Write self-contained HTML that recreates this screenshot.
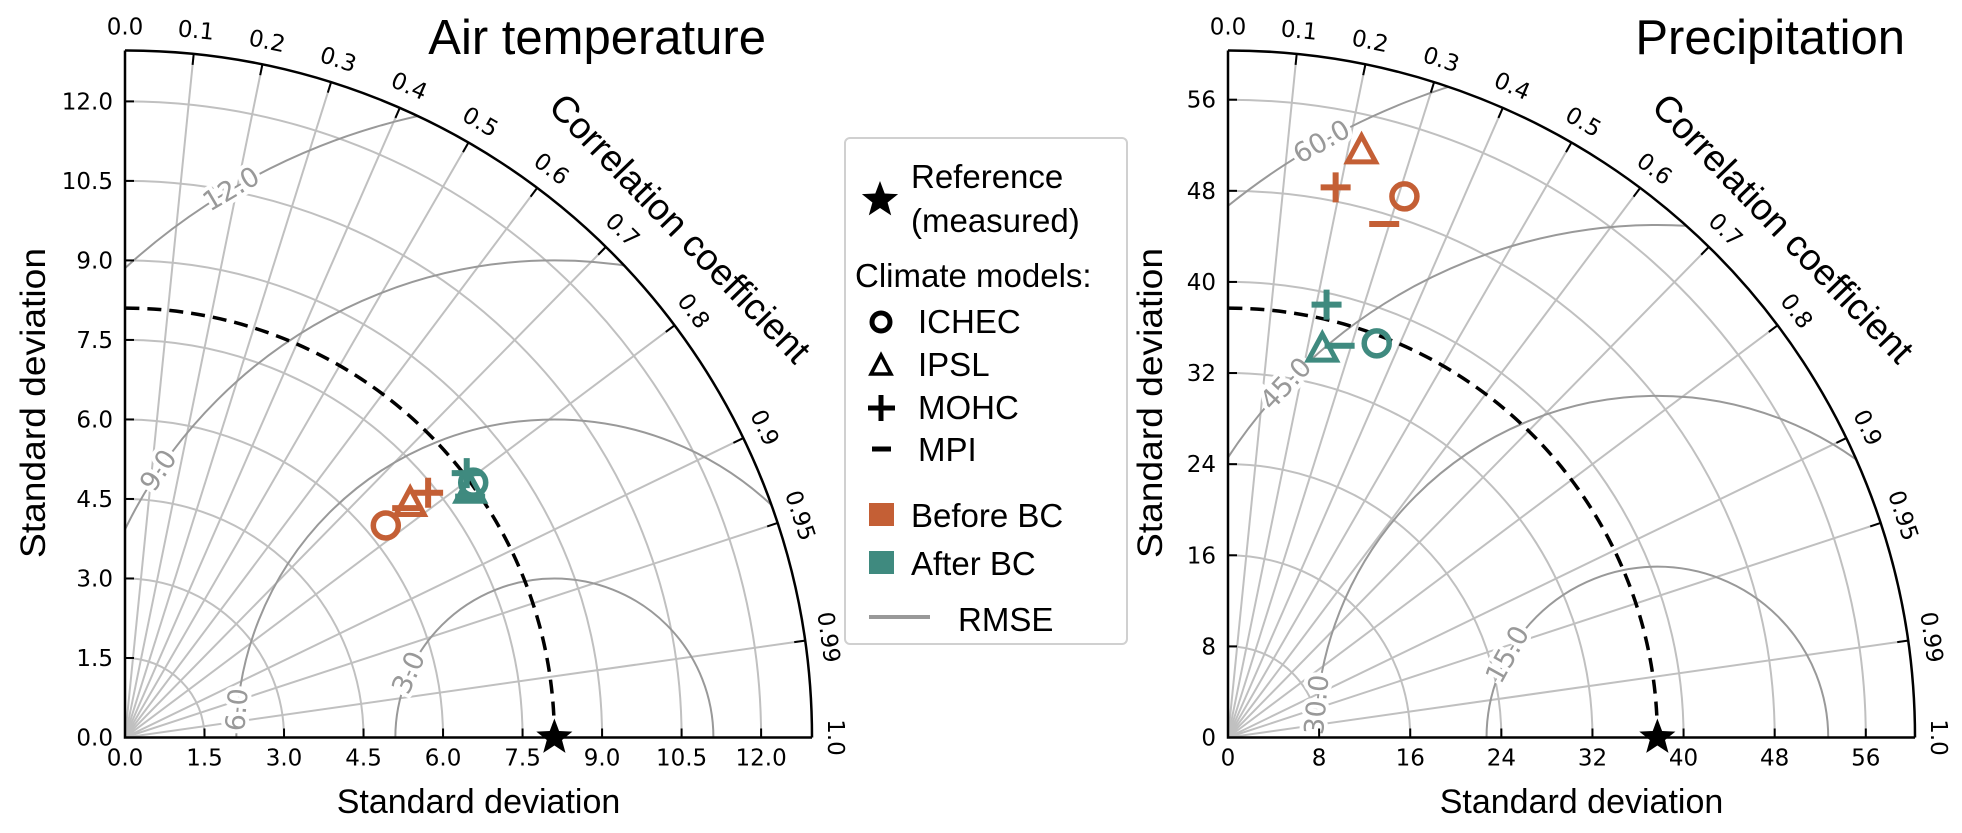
<!DOCTYPE html>
<html><head><meta charset="utf-8"><style>
html,body{margin:0;padding:0;background:#fff;overflow:hidden;width:1962px;height:833px;}
svg{display:block;}
</style></head><body>
<svg id="chart" width="1962" height="833" viewBox="0 0 1962 833" xmlns="http://www.w3.org/2000/svg">
<g id="panelT"></g>
<g id="panelP"></g>
<g id="legend">
  <rect x="845" y="138" width="282" height="506" rx="5" fill="#fff" stroke="#d0d0d0" stroke-width="2"/>
  <path d="" id="legStar" fill="#000"/>
  <text x="911" y="188" font-family="Liberation Sans, sans-serif" font-size="33">Reference</text>
  <text x="911" y="232" font-family="Liberation Sans, sans-serif" font-size="33">(measured)</text>
  <text x="855" y="287" font-family="Liberation Sans, sans-serif" font-size="33">Climate models:</text>
  <circle cx="881" cy="322" r="9" fill="none" stroke="#000" stroke-width="5"/>
  <text x="918" y="333" font-family="Liberation Sans, sans-serif" font-size="33">ICHEC</text>
  <path d="M881,355 L891,374 L871,374 Z" fill="none" stroke="#000" stroke-width="3.5"/>
  <text x="918" y="376" font-family="Liberation Sans, sans-serif" font-size="33">IPSL</text>
  <path d="M868,408 H895 M881,395 V421" stroke="#000" stroke-width="5"/>
  <text x="918" y="419" font-family="Liberation Sans, sans-serif" font-size="33">MOHC</text>
  <path d="M872,449 H891" stroke="#000" stroke-width="5"/>
  <text x="918" y="461" font-family="Liberation Sans, sans-serif" font-size="33">MPI</text>
  <rect x="869" y="503" width="25" height="23" fill="#c45f35"/>
  <text x="911" y="527" font-family="Liberation Sans, sans-serif" font-size="33">Before BC</text>
  <rect x="869" y="551" width="25" height="23" fill="#3f8a7f"/>
  <text x="911" y="575" font-family="Liberation Sans, sans-serif" font-size="33">After BC</text>
  <path d="M869,617 H930" stroke="#999" stroke-width="4"/>
  <text x="958" y="631" font-family="Liberation Sans, sans-serif" font-size="33">RMSE</text>
</g>
</svg>
<script>
// ---- Air temperature data ----
const stdTicksT = [0, 1.5, 3.0, 4.5, 6.0, 7.5, 9.0, 10.5, 12.0];
const stdTickLabelsT = ["0.0","1.5","3.0","4.5","6.0","7.5","9.0","10.5","12.0"];
const refStdT = 8.1;
const rmseLevelsT = [3, 6, 9, 12];
const rmseLabelsT = ["3.0","6.0","9.0","12.0"];
const rmseLabelAngleT = [156, 175, 146, 120.5];
const beforeStdT = [6.34, 6.96, 7.35, 6.86];
const beforeCorrT = [0.776, 0.773, 0.778, 0.776];
const afterStdT = [8.14, 8.01, 8.15, 7.94];
const afterCorrT = [0.807, 0.813, 0.791, 0.82];
// ---- Precipitation data ----
const stdTicksP = [0, 8, 16, 24, 32, 40, 48, 56];
const stdTickLabelsP = ["0","8","16","24","32","40","48","56"];
const refStdP = 37.7;
const rmseLevelsP = [15, 30, 45, 60];
const rmseLabelsP = ["15.0","30.0","45.0","60.0"];
const rmseLabelAngleP = [151, 174.5, 136.4, 119.4];
const beforeStdP = [49.97, 52.82, 49.22, 47.13];
const beforeCorrP = [0.310, 0.222, 0.192, 0.291];
const afterStdP = [36.99, 35.09, 38.98, 35.77];
const afterCorrP = [0.353, 0.236, 0.222, 0.274];
// ---- shared ----
const models = ["ichec","ipsl","mohc","mpi"];
const corrTicks = [0, 0.1, 0.2, 0.3, 0.4, 0.5, 0.6, 0.7, 0.8, 0.9, 0.95, 0.99, 1.0];
const corrTickLabels = ["0.0","0.1","0.2","0.3","0.4","0.5","0.6","0.7","0.8","0.9","0.95","0.99","1.0"];

const NS = "http://www.w3.org/2000/svg";
function mk(parent, tag, attrs){
  const e = document.createElementNS(NS, tag);
  for (const k in attrs) e.setAttribute(k, attrs[k]);
  parent.appendChild(e);
  return e;
}
function starPath(cx, cy, R){
  const r = R*0.42; let d = "";
  for (let i=0;i<10;i++){
    const a = -Math.PI/2 + i*Math.PI/5;
    const rr = i%2===0 ? R : r;
    d += (i===0?"M":"L") + (cx+rr*Math.cos(a)).toFixed(1) + "," + (cy+rr*Math.sin(a)).toFixed(1);
  }
  return d + "Z";
}
document.getElementById("legStar").setAttribute("d", starPath(880, 200, 19));

function drawPanel(g, cfg){
  const ox = cfg.ox, oy = cfg.oy, R = 687;
  const rmax = 1.6*cfg.ref;
  const k = R/rmax;
  const X = (s,c) => ox + s*c*k;
  const Y = (s,c) => oy - s*Math.sqrt(Math.max(0,1-c*c))*k;
  const DX = v => ox + v*k;
  const DY = v => oy - v*k;
  const id = cfg.key;
  const defs = mk(g, "defs", {});
  const cp = mk(defs, "clipPath", {id: "clip"+id});
  mk(cp, "path", {d: `M${ox},${oy} L${ox+R},${oy} A${R},${R} 0 0 0 ${ox},${oy-R} Z`});
  cfg.ticks.forEach((t,i) => {
    if (t<=0) return;
    const a = mk(g, "path", {d:`M${DX(t)},${oy} A${t*k},${t*k} 0 0 0 ${ox},${DY(t)}`, fill:"none", stroke:"#c0c0c0", "stroke-width":2});
    
    
  });
  corrTicks.forEach(c => {
    if (c<=0 || c>=1) return;
    const l = mk(g, "line", {x1:ox, y1:oy, x2:X(rmax,c), y2:Y(rmax,c), stroke:"#c0c0c0", "stroke-width":2});
    
    
  });
  const cg = mk(g, "g", {"clip-path":`url(#clip${id})`});
  
  
  cfg.rmse.forEach(L => {
    const c = mk(cg, "circle", {cx:DX(cfg.ref), cy:oy, r:L*k, fill:"none", stroke:"#999", "stroke-width":2});
    
    
  });
  cfg.rmse.forEach((L,i) => {
    const phi = cfg.rmseAng[i]*Math.PI/180;
    const px = DX(cfg.ref + L*Math.cos(phi)), py = DY(L*Math.sin(phi));
    const rot = -(cfg.rmseAng[i]-90);
    const t = mk(g, "text", {x:px, y:py, "text-anchor":"middle", "dominant-baseline":"central",
      transform:`rotate(${rot} ${px} ${py})`, "font-family":"DejaVu Sans, sans-serif", "font-size":27,
      fill:"#999", stroke:"#fff", "stroke-width":8, "paint-order":"stroke"});
    t.textContent = cfg.rmseLabels[i];
    
    
  });
  const ra = mk(g, "path", {d:`M${DX(cfg.ref)},${oy} A${cfg.ref*k},${cfg.ref*k} 0 0 0 ${ox},${DY(cfg.ref)}`, fill:"none", stroke:"#000", "stroke-width":3.5, "stroke-dasharray":"14 8"});
  
  
  const ax = mk(g, "path", {d:`M${ox},${DY(rmax)} L${ox},${oy} L${DX(rmax)},${oy}`, fill:"none", stroke:"#000", "stroke-width":2.5});
  
  
  const oa = mk(g, "path", {d:`M${DX(rmax)},${oy} A${R},${R} 0 0 0 ${ox},${DY(rmax)}`, fill:"none", stroke:"#000", "stroke-width":2.5});
  
  
  cfg.ticks.forEach((t,i) => {
    const tx = mk(g, "line", {x1:DX(t), y1:oy, x2:DX(t), y2:oy-9, stroke:"#000", "stroke-width":2});
    
    
    const ty = mk(g, "line", {x1:ox, y1:DY(t), x2:ox+9, y2:DY(t), stroke:"#000", "stroke-width":2});
    
    
    const lx = mk(g, "text", {x:DX(t), y:oy+28, "text-anchor":"middle", "font-family":"DejaVu Sans, sans-serif", "font-size":23});
    lx.textContent = cfg.tickLabels[i];
    
    
    const ly = mk(g, "text", {x:ox-12, y:DY(t)+8, "text-anchor":"end", "font-family":"DejaVu Sans, sans-serif", "font-size":23});
    ly.textContent = cfg.tickLabels[i];
    
    
  });
  corrTicks.forEach((c,i) => {
    const th = Math.acos(c);
    const ct = mk(g, "line", {x1:X(rmax,c), y1:Y(rmax,c), x2:ox+(R-11)*Math.cos(th), y2:oy-(R-11)*Math.sin(th), stroke:"#000", "stroke-width":2});
    
    
    const lr = R + 23;
    const px = ox + lr*Math.cos(th), py = oy - lr*Math.sin(th);
    const rot = 90 - th*180/Math.PI;
    const t = mk(g, "text", {x:px, y:py, "text-anchor":"middle", "dominant-baseline":"central",
      transform:`rotate(${rot} ${px} ${py})`, "font-family":"DejaVu Sans, sans-serif", "font-size":23});
    t.textContent = corrTickLabels[i];
    
    
  });
  const xl = mk(g, "text", {x:ox+R/2+10, y:813, "text-anchor":"middle", "font-family":"Liberation Sans, sans-serif", "font-size":34});
  xl.textContent = "Standard deviation";
  
  
  const yx = ox - cfg.ylOff, yy = 403;
  const yl = mk(g, "text", {x:yx, y:yy, "text-anchor":"middle", transform:`rotate(-90 ${yx} ${yy})`, "font-family":"Liberation Sans, sans-serif", "font-size":35, textLength:310, lengthAdjust:"spacingAndGlyphs"});
  yl.textContent = "Standard deviation";
  
  
  const cx = ox + 546, cy = 237;
  const cl = mk(g, "text", {x:cx, y:cy, "text-anchor":"middle", transform:`rotate(46 ${cx} ${cy})`, "font-family":"Liberation Sans, sans-serif", "font-size":37});
  cl.textContent = "Correlation coefficient";
  
  
  const ti = mk(g, "text", {x:cfg.titleX, y:54, "text-anchor":"end", "font-family":"Liberation Sans, sans-serif", "font-size":49});
  ti.textContent = cfg.title;
  
  
  function marker(kind, x, y, col){
    let e;
    if (kind==="ichec") e = mk(g, "circle", {cx:x, cy:y, r:12.5, fill:"none", stroke:col, "stroke-width":5.5});
    else if (kind==="ipsl") e = mk(g, "path", {d:`M${x},${y-15} L${x+14},${y+11} L${x-14},${y+11} Z`, fill:"none", stroke:col, "stroke-width":5});
    else if (kind==="mohc") e = mk(g, "path", {d:`M${x-15},${y} H${x+15} M${x},${y-15} V${y+15}`, stroke:col, "stroke-width":6});
    else e = mk(g, "path", {d:`M${x-15},${y} H${x+15}`, stroke:col, "stroke-width":6});
    return e;
  }
  cfg.bStd.forEach((s,i) => {
    const m = marker(models[i], X(s,cfg.bCorr[i]), Y(s,cfg.bCorr[i]), "#c45f35");
    
    
  });
  cfg.aStd.forEach((s,i) => {
    const m = marker(models[i], X(s,cfg.aCorr[i]), Y(s,cfg.aCorr[i]), "#3f8a7f");
    
    
  });
  const st = mk(g, "path", {d:starPath(DX(cfg.ref), oy, 19), fill:"#000"});
  
  
}

drawPanel(document.getElementById("panelT"), {key:"T", ox:125, oy:737.5, ref:refStdT, ticks:stdTicksT, tickLabels:stdTickLabelsT,
  rmse:rmseLevelsT, rmseLabels:rmseLabelsT, rmseAng:rmseLabelAngleT, bStd:beforeStdT, bCorr:beforeCorrT, aStd:afterStdT, aCorr:afterCorrT,
  title:"Air temperature", titleX:766, ylOff:80});
drawPanel(document.getElementById("panelP"), {key:"P", ox:1228, oy:737.5, ref:refStdP, ticks:stdTicksP, tickLabels:stdTickLabelsP,
  rmse:rmseLevelsP, rmseLabels:rmseLabelsP, rmseAng:rmseLabelAngleP, bStd:beforeStdP, bCorr:beforeCorrP, aStd:afterStdP, aCorr:afterCorrP,
  title:"Precipitation", titleX:1905, ylOff:66});
</script>
</body></html>
